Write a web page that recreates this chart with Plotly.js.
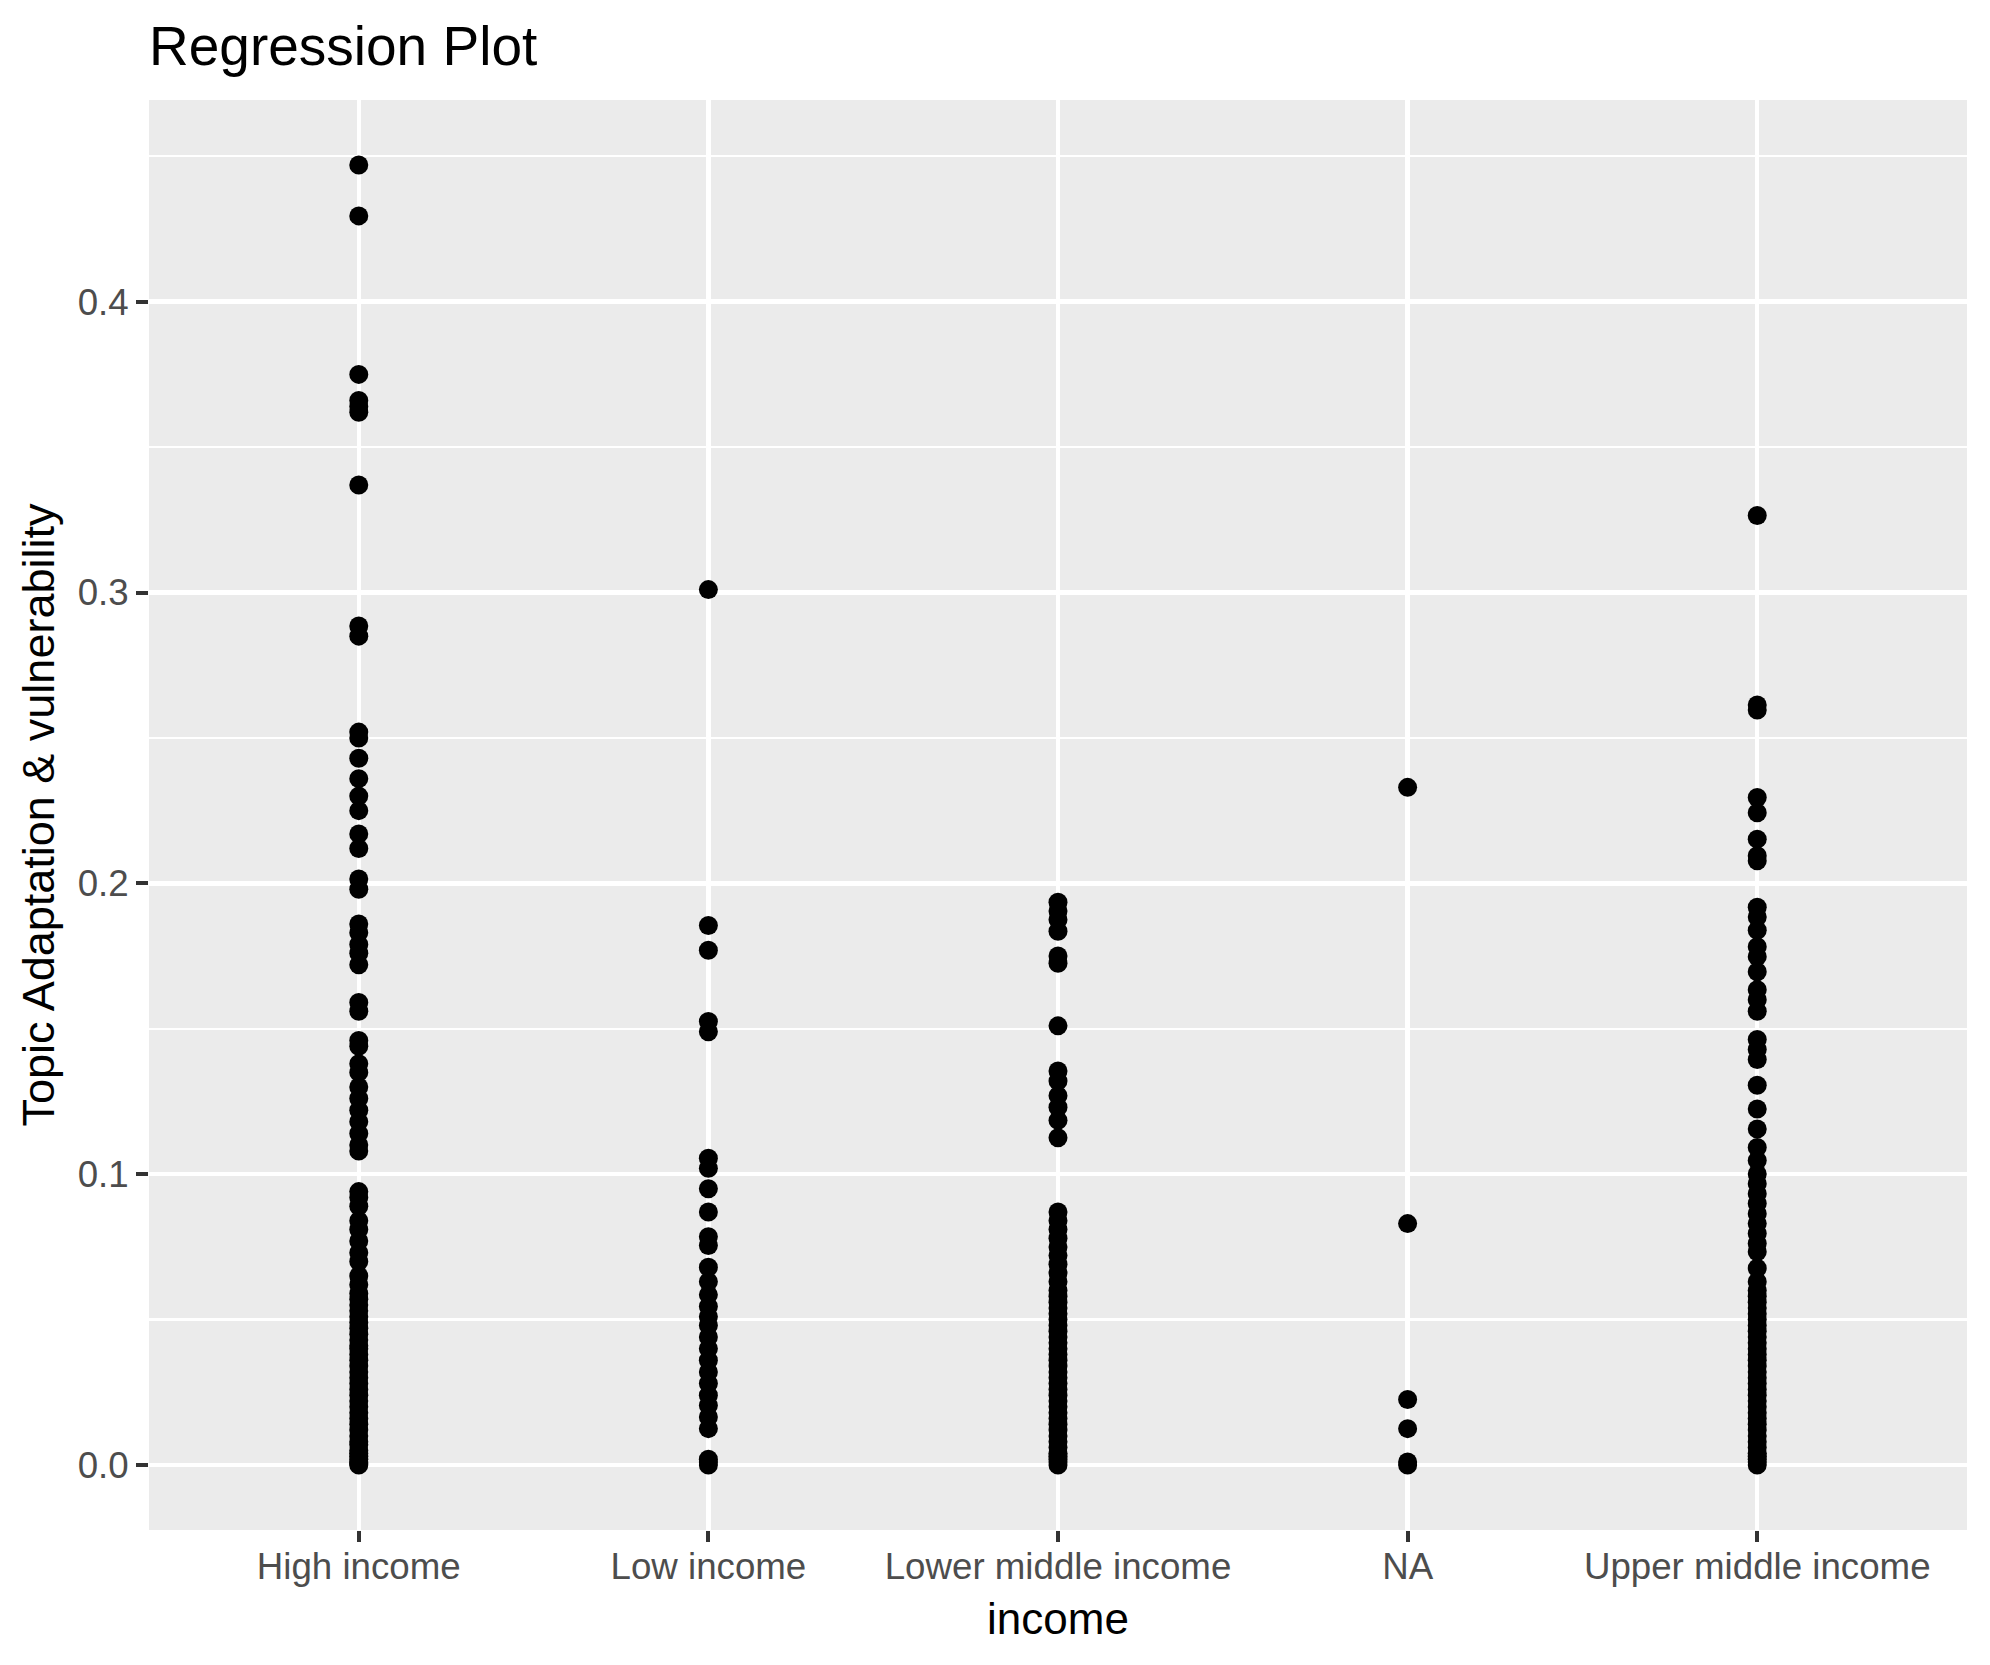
<!DOCTYPE html>
<html>
<head>
<meta charset="utf-8">
<script src="https://cdn.plot.ly/plotly-3.0.1.min.js"></script>
<style>html,body{margin:0;padding:0;background:#fff;}#chart{width:1990px;height:1665px;}</style>
</head>
<body>
<div id="chart"></div>
<script>
// Categories (x axis tick labels)
var categories = ["High income", "Low income", "Lower middle income", "NA", "Upper middle income"];

// Topic Adaptation & vulnerability values per income group
var highIncome = [0.447, 0.4295, 0.375, 0.366, 0.364, 0.362, 0.337, 0.2885, 0.285, 0.252, 0.250, 0.243,
  0.236, 0.230, 0.225, 0.217, 0.212, 0.2015, 0.198, 0.186, 0.183, 0.179, 0.176, 0.172, 0.159, 0.156,
  0.146, 0.144, 0.138, 0.135, 0.130, 0.126, 0.122, 0.118, 0.114, 0.110, 0.108, 0.094, 0.092, 0.089,
  0.084, 0.081, 0.077, 0.073, 0.070, 0.065, 0.062, 0.059, 0.057, 0.055, 0.053, 0.051, 0.049, 0.047,
  0.045, 0.043, 0.041, 0.040, 0.038, 0.036, 0.034, 0.032, 0.030, 0.028, 0.026, 0.024, 0.022, 0.020,
  0.018, 0.016, 0.014, 0.012, 0.010, 0.008, 0.007, 0.005, 0.004, 0.003, 0.002, 0.001, 0.0005, 0.0];

var lowIncome = [0.301, 0.1855, 0.177, 0.1525, 0.149, 0.1055, 0.102, 0.095, 0.087, 0.0785, 0.0755,
  0.068, 0.063, 0.0585, 0.0545, 0.051, 0.048, 0.044, 0.040, 0.036, 0.032, 0.028, 0.024, 0.0205,
  0.0165, 0.0125, 0.002, 0.001, 0.0];

var lowerMiddleIncome = [0.1935, 0.1905, 0.1875, 0.1835, 0.175, 0.1725, 0.151, 0.1355, 0.132, 0.127,
  0.123, 0.1185, 0.1125, 0.087, 0.084, 0.081, 0.078, 0.075, 0.072, 0.069, 0.066, 0.063, 0.060, 0.058,
  0.056, 0.054, 0.052, 0.050, 0.048, 0.046, 0.044, 0.042, 0.040, 0.038, 0.036, 0.034, 0.032, 0.030,
  0.028, 0.026, 0.024, 0.022, 0.020, 0.018, 0.016, 0.014, 0.012, 0.010, 0.008, 0.006, 0.004, 0.003,
  0.002, 0.001, 0.0];

var naIncome = [0.233, 0.083, 0.0225, 0.0125, 0.001, 0.0];

var upperMiddleIncome = [0.3265, 0.2613, 0.2596, 0.2295, 0.2243, 0.2152, 0.2095, 0.2078, 0.1918,
  0.1884, 0.1839, 0.1782, 0.1748, 0.1696, 0.1634, 0.160, 0.156, 0.1463, 0.1429, 0.1394, 0.1306,
  0.1224, 0.1155, 0.1092, 0.1047, 0.1001, 0.0967, 0.0933, 0.0899, 0.0864, 0.083, 0.0796, 0.0762,
  0.0733, 0.0677, 0.063, 0.060, 0.058, 0.056, 0.054, 0.052, 0.050, 0.048, 0.046, 0.044, 0.042,
  0.040, 0.038, 0.036, 0.034, 0.032, 0.030, 0.028, 0.026, 0.024, 0.022, 0.020, 0.018, 0.016, 0.014,
  0.012, 0.010, 0.008, 0.006, 0.004, 0.003, 0.002, 0.001, 0.0];

var groups = [highIncome, lowIncome, lowerMiddleIncome, naIncome, upperMiddleIncome];

var xs = [], ys = [];
groups.forEach(function (vals, i) {
  vals.forEach(function (v) { xs.push(categories[i]); ys.push(v); });
});

var FONT = "Liberation Sans, Arial, Helvetica, sans-serif";

var trace = {
  type: "scatter",
  mode: "markers",
  x: xs,
  y: ys,
  marker: { color: "#000000", size: 19, line: { width: 0 } },
  hoverinfo: "x+y",
  showlegend: false
};

var layout = {
  width: 1990,
  height: 1665,
  paper_bgcolor: "#FFFFFF",
  plot_bgcolor: "#EBEBEB",
  margin: { l: 149, r: 23, t: 100, b: 135, pad: 0 },
  font: { family: FONT, color: "#000000" },
  title: {
    text: "Regression Plot",
    font: { family: FONT, size: 55, color: "#000000" },
    x: 149 / 1990,
    xanchor: "left",
    xref: "container",
    y: 1 - 46 / 1665,
    yanchor: "middle",
    yref: "container"
  },
  xaxis: {
    type: "category",
    categoryorder: "array",
    categoryarray: categories,
    range: [-0.6, 4.6],
    showgrid: true,
    gridcolor: "#FFFFFF",
    gridwidth: 4.5,
    zeroline: false,
    showline: false,
    ticks: "outside",
    ticklen: 11,
    tickwidth: 4,
    tickcolor: "#333333",
    ticklabelstandoff: -7,
    tickfont: { family: FONT, size: 36.7, color: "#4D4D4D" },
    title: { text: "income", font: { family: FONT, size: 44, color: "#000000" }, standoff: 17 },
    fixedrange: true
  },
  yaxis: {
    range: [-0.02235, 0.46935],
    tick0: 0,
    dtick: 0.1,
    tickformat: ".1f",
    showgrid: true,
    gridcolor: "#FFFFFF",
    gridwidth: 4.5,
    minor: { tick0: 0, dtick: 0.05, showgrid: true, gridcolor: "#FFFFFF", gridwidth: 2.3, ticks: "" },
    zeroline: false,
    showline: false,
    ticks: "outside",
    ticklen: 12,
    tickwidth: 4,
    tickcolor: "#333333",
    tickfont: { family: FONT, size: 36.7, color: "#4D4D4D" },
    title: { text: "Topic Adaptation &amp; vulnerability", font: { family: FONT, size: 45, color: "#000000" }, standoff: 8 },
    fixedrange: true
  }
};

Plotly.newPlot("chart", [trace], layout, { displayModeBar: false, staticPlot: true });
</script>
</body>
</html>
